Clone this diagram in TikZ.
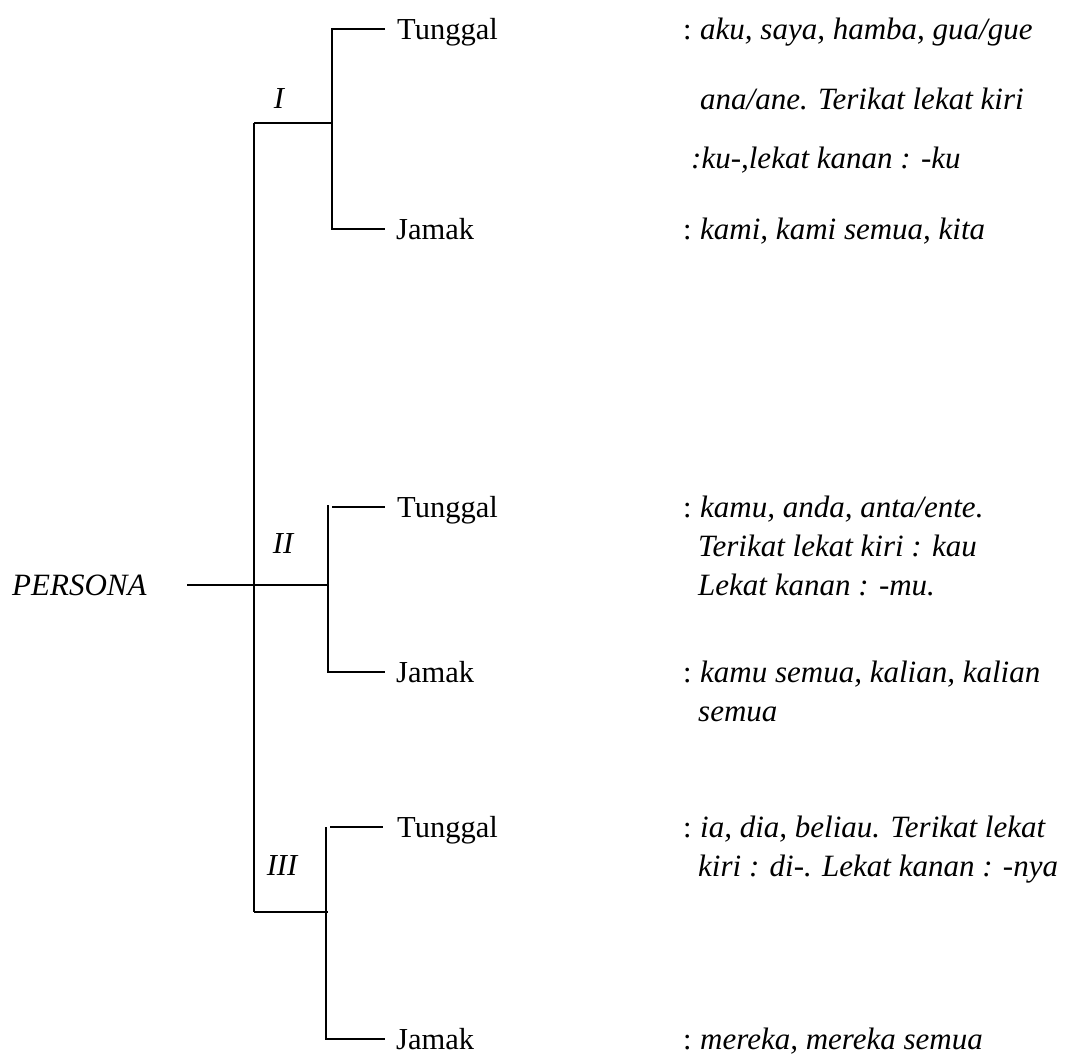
\documentclass[tikz,border=0pt]{standalone}
\usepackage{fontspec}
\setmainfont{Liberation Serif}
\usetikzlibrary{positioning}

\tikzset{
  word/.style={anchor=base west, inner sep=0pt, font=\fontsize{30.5}{36}\selectfont},
  gloss/.style={word, font=\fontsize{31}{36}\selectfont\itshape},
  roman/.style={anchor=base, inner sep=0pt, font=\fontsize{30.5}{36}\selectfont\itshape},
  branch/.style={line width=1.5pt},
}

\begin{document}
\begin{tikzpicture}[x=1pt,y=-1pt]
\useasboundingbox (0,0) rectangle (1065,1061);

        % Akar: persona
        \node[gloss] (persona) at (12,595) {PERSONA};
        \coordinate (p0) at (187,585);
        \coordinate (p1) at (328,585);
        \coordinate (top) at (254,123);
        \coordinate (bot) at (254,912);

        % Cabang I
        \coordinate (a0) at (332,29);
        \coordinate (a1) at (332,123);
        \coordinate (a2) at (332,229);
        \coordinate (a0e) at (385,29);
        \coordinate (a2e) at (385,229);

        % Cabang II
        \coordinate (b0) at (328,505);
        \coordinate (b2) at (328,672);
        \coordinate (b0s) at (332,507);
        \coordinate (b0e) at (385,507);
        \coordinate (b2e) at (385,672);

        % Cabang III
        \coordinate (c0) at (326,827);
        \coordinate (c2) at (326,1039);
        \coordinate (c1) at (328,912);
        \coordinate (c0s) at (330,827);
        \coordinate (c0e) at (383,827);
        \coordinate (c2e) at (385,1039);

        % Garis
        \draw[branch] (p0) -- (p1);
        \draw[branch] (top) -- (bot);
        \draw[branch] (top) -- (a1);
        \draw[branch] (a0e) -- (a0) -- (a2) -- (a2e);
        \draw[branch] (b0) -- (b2) -- (b2e);
        \draw[branch] (b0s) -- (b0e);
        \draw[branch] (bot) -- (c1);
        \draw[branch] (c0) -- (c2) -- (c2e);
        \draw[branch] (c0s) -- (c0e);

        % Label persona
        \node[roman] (n1) at (279,108) {I};
        \node[roman] (n2) at (283,553) {II};
        \node[roman] (n3) at (282,875) {III};

        % Tunggal / Jamak
        \node[word] (t1) at (397,39) {Tunggal};
        \node[word] (j1) at (396,239) {Jamak};
        \node[word] (t2) at (397,517) {Tunggal};
        \node[word] (j2) at (396,682) {Jamak};
        \node[word] (t3) at (397,837) {Tunggal};
        \node[word] (j3) at (396,1049) {Jamak};

        % Keterangan I
        \node[word] (d1a) at (683,39) {:\hspace{0.28em}\textit{\fontsize{31}{36}\selectfont aku, saya, hamba, gua/gue}};
        \node[gloss] (d1b) at (700,109) {ana/ane. Terikat lekat kiri};
        \node[gloss] (d1c) at (691,168) {:ku-,lekat kanan : -ku};
        \node[word] (d1d) at (683,239) {:\hspace{0.28em}\textit{\fontsize{31}{36}\selectfont kami, kami semua, kita}};

        % Keterangan II
        \node[word] (d2a) at (683,517) {:\hspace{0.28em}\textit{\fontsize{31}{36}\selectfont kamu, anda, anta/ente.}};
        \node[gloss] (d2b) at (698,556) {Terikat lekat kiri : kau};
        \node[gloss] (d2c) at (698,595) {Lekat kanan : -mu.};
        \node[word] (d2d) at (683,682) {:\hspace{0.28em}\textit{\fontsize{31}{36}\selectfont kamu semua, kalian, kalian}};
        \node[gloss] (d2e) at (698,721) {semua};

        % Keterangan III
        \node[word] (d3a) at (683,837) {:\hspace{0.28em}\textit{\fontsize{31}{36}\selectfont ia, dia, beliau. Terikat lekat}};
        \node[gloss] (d3b) at (698,876) {kiri : di-. Lekat kanan : -nya};
        \node[word] (d3c) at (683,1049) {:\hspace{0.28em}\textit{\fontsize{31}{36}\selectfont mereka, mereka semua}};

\end{tikzpicture}
\end{document}
